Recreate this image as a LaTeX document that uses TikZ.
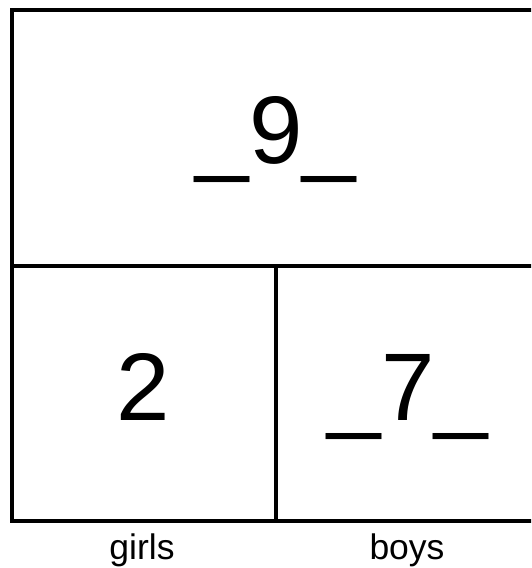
\documentclass[tikz,border=0pt]{standalone}
\usepackage{fontspec}
\setmainfont{Liberation Sans}
\begin{document}
\begin{tikzpicture}[x=1pt,y=-1pt,
  frame/.style={draw=black,line width=4pt},
  big/.style={font=\fontsize{96}{96}\selectfont,anchor=base,inner sep=0pt},
  lab/.style={font=\fontsize{35.5}{36}\selectfont,anchor=base,inner sep=0pt}]
\clip (0,0) rectangle (531,568);
\useasboundingbox (0,0) rectangle (531,568);
\coordinate (tl) at (12,10);
\coordinate (br) at (534,521);
\coordinate (ml) at (12,266);
\coordinate (mr) at (534,266);
\coordinate (vt) at (275.5,266);
\coordinate (vb) at (275.5,521);
\draw[frame] (tl) rectangle (br);
\draw[frame] (ml) -- (mr);
\draw[frame] (vt) -- (vb);
\node[big] (total) at (276,163) {\_9\_};
\node[big] (girlsn) at (143,420) {2};
\node[big] (boysn) at (408,420) {\_7\_};
\node[lab] (girls) at (142,559) {girls};
\node[lab] (boys) at (407,559) {boys};
\end{tikzpicture}
\end{document}
